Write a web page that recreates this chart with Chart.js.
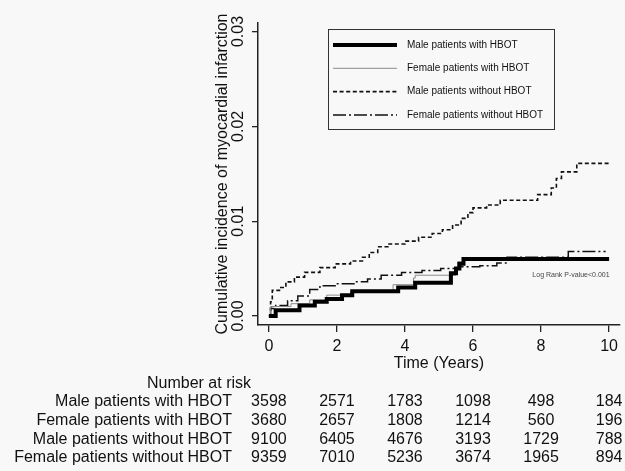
<!DOCTYPE html>
<html>
<head>
<meta charset="utf-8">
<script src="https://cdn.jsdelivr.net/npm/chart.js@4.4.0/dist/chart.umd.min.js"></script>
<style>
html, body { margin: 0; padding: 0; background: #f8f8f8; }
canvas { display: block; }
</style>
</head>
<body>
<canvas id="km" width="625" height="471"></canvas>
<script>
// series names (legend + risk table rows)
const groupNames = ['Male patients with HBOT', 'Female patients with HBOT', 'Male patients without HBOT', 'Female patients without HBOT'];

// step curves: time in years, cumulative incidence
const maleHbotTime = [0, 0.2, 0.9, 1.35, 1.7, 2.15, 2.45, 3.8, 4.3, 5.35, 5.5, 5.6, 5.72, 10];
const maleHbotCum = [0, 0.0006, 0.0011, 0.0015, 0.0018, 0.0022, 0.0026, 0.0030, 0.0035, 0.0045, 0.0050, 0.0055, 0.0060, 0.0060];

const femaleHbotTime = [0, 0.05, 0.65, 1.2, 1.7, 2.4, 3.65, 4.25, 4.3, 5.5, 5.55, 5.7, 10];
const femaleHbotCum = [0, 0.0010, 0.0013, 0.0017, 0.0022, 0.0026, 0.0033, 0.0040, 0.0043, 0.0047, 0.0057, 0.0060, 0.0060];

const maleNoHbotTime = [0, 0.05, 0.1, 0.35, 0.5, 0.75, 1.05, 1.5, 1.95, 2.4, 2.75, 2.95, 3.2, 3.5, 4.0, 4.4, 4.8, 5.1, 5.4, 5.65, 5.85, 6.0, 6.4, 6.8, 7.9, 8.3, 8.45, 8.6, 9.05, 10];
const maleNoHbotCum = [0, 0.0015, 0.0027, 0.0030, 0.0036, 0.0041, 0.0046, 0.0051, 0.0055, 0.0058, 0.0062, 0.0067, 0.0073, 0.0076, 0.0079, 0.0083, 0.0087, 0.0091, 0.0096, 0.0103, 0.0109, 0.0114, 0.0117, 0.0122, 0.0128, 0.0135, 0.0145, 0.0152, 0.0161, 0.0161];

const femaleNoHbotTime = [0, 0.05, 0.2, 0.55, 0.85, 1.2, 1.5, 1.95, 2.5, 2.9, 3.3, 3.9, 4.5, 5.05, 5.6, 6.2, 6.7, 7.0, 8.8, 9.9];
const femaleNoHbotCum = [0, 0.0008, 0.0011, 0.0016, 0.0021, 0.0028, 0.0032, 0.0034, 0.0036, 0.0039, 0.0043, 0.0046, 0.0048, 0.0050, 0.0052, 0.0053, 0.0056, 0.0062, 0.0068, 0.0068];

// axis ticks
const xTicks = [0, 2, 4, 6, 8, 10];
const yTicks = [0, 0.01, 0.02, 0.03];
const yTickLabels = ['0.00', '0.01', '0.02', '0.03'];

// number at risk table
const riskTimes = [0, 2, 4, 6, 8, 10];
const riskMaleHbot = [3598, 2571, 1783, 1098, 498, 184];
const riskFemaleHbot = [3680, 2657, 1808, 1214, 560, 196];
const riskMaleNoHbot = [9100, 6405, 4676, 3193, 1729, 788];
const riskFemaleNoHbot = [9359, 7010, 5236, 3674, 1965, 894];

const pValueText = 'Log Rank P-value<0.001';

const FONT = '"Liberation Sans", Arial, sans-serif';

function toPoints(times, values) {
    return times.map((t, i) => ({ x: t, y: values[i] }));
}

const bgPlugin = {
    id: 'bg',
    beforeDraw(chart) {
        const ctx = chart.ctx;
        ctx.save();
        ctx.fillStyle = '#f8f8f8';
        ctx.fillRect(0, 0, chart.width, chart.height);
        ctx.restore();
    }
};

// y tick labels are rotated in the original, draw them by hand
const yLabelPlugin = {
    id: 'yLabels',
    afterDraw(chart) {
        const ctx = chart.ctx;
        const yScale = chart.scales.y;
        ctx.save();
        ctx.font = '16px ' + FONT;
        ctx.fillStyle = '#111';
        ctx.textAlign = 'center';
        ctx.textBaseline = 'middle';
        yTicks.forEach((v, i) => {
            ctx.save();
            ctx.translate(239, yScale.getPixelForValue(v));
            ctx.rotate(-Math.PI / 2);
            ctx.fillText(yTickLabels[i], 0, 0);
            ctx.restore();
        });
        ctx.restore();
    }
};

const legendPlugin = {
    id: 'boxLegend',
    afterDraw(chart) {
        const ctx = chart.ctx;
        ctx.save();
        ctx.strokeStyle = '#333';
        ctx.lineWidth = 1;
        ctx.strokeRect(328.5, 29.5, 226, 100);
        ctx.font = '10px ' + FONT;
        ctx.textBaseline = 'middle';
        ctx.textAlign = 'left';
        chart.data.datasets.forEach((ds, i) => {
            const y = 45 + i * 23.3;
            ctx.save();
            ctx.strokeStyle = ds.borderColor;
            ctx.lineWidth = ds.borderWidth;
            ctx.setLineDash(ds.borderDash || []);
            ctx.beginPath();
            ctx.moveTo(333, y);
            ctx.lineTo(397, y);
            ctx.stroke();
            ctx.restore();
            ctx.fillStyle = '#111';
            ctx.fillText(ds.label, 407, y);
        });
        ctx.restore();
    }
};

const riskPlugin = {
    id: 'riskTable',
    afterDraw(chart) {
        const ctx = chart.ctx;
        const xScale = chart.scales.x;
        const rows = [riskMaleHbot, riskFemaleHbot, riskMaleNoHbot, riskFemaleNoHbot];
        const rowY = [402, 421, 440, 458];
        ctx.save();
        ctx.font = '16px ' + FONT;
        ctx.fillStyle = '#111';
        ctx.textBaseline = 'middle';
        ctx.textAlign = 'center';
        ctx.fillText('Number at risk', 199, 384);
        rows.forEach((row, r) => {
            ctx.textAlign = 'right';
            ctx.fillText(groupNames[r], 232, rowY[r]);
            ctx.textAlign = 'center';
            row.forEach((n, j) => {
                ctx.fillText(String(n), xScale.getPixelForValue(riskTimes[j]), rowY[r]);
            });
        });

        // log rank note inside the plot
        const yScale = chart.scales.y;
        ctx.font = '7px ' + FONT;
        ctx.fillStyle = '#444';
        ctx.fillText(pValueText, xScale.getPixelForValue(8.88), yScale.getPixelForValue(0.00433));
        ctx.restore();
    }
};

new Chart(document.getElementById('km'), {
    type: 'line',
    data: {
        datasets: [
            {
                label: groupNames[0],
                data: toPoints(maleHbotTime, maleHbotCum),
                borderColor: '#000',
                borderWidth: 4,
                borderDash: []
            },
            {
                label: groupNames[1],
                data: toPoints(femaleHbotTime, femaleHbotCum),
                borderColor: '#8c8c8c',
                borderWidth: 1,
                borderDash: []
            },
            {
                label: groupNames[2],
                data: toPoints(maleNoHbotTime, maleNoHbotCum),
                borderColor: '#111',
                borderWidth: 1.6,
                borderDash: [4, 2.6]
            },
            {
                label: groupNames[3],
                data: toPoints(femaleNoHbotTime, femaleNoHbotCum),
                borderColor: '#111',
                borderWidth: 1.5,
                borderDash: [13, 3, 2, 3]
            }
        ]
    },
    options: {
        responsive: false,
        animation: false,
        layout: {
            padding: { left: 209, top: 23, right: 0, bottom: 99 }
        },
        elements: {
            point: { radius: 0 },
            line: { stepped: 'before', fill: false, tension: 0, borderJoinStyle: 'miter', borderCapStyle: 'butt' }
        },
        plugins: {
            legend: { display: false },
            tooltip: { enabled: false }
        },
        scales: {
            x: {
                type: 'linear',
                min: -0.32,
                max: 10.32,
                afterBuildTicks: s => { s.ticks = xTicks.map(v => ({ value: v })); },
                afterFit: s => { s.height = 47; },
                ticks: {
                    font: { family: FONT, size: 16, lineHeight: 1 },
                    color: '#111',
                    padding: 7,
                    maxRotation: 0,
                    callback: v => String(v)
                },
                grid: { drawOnChartArea: false, drawTicks: true, tickLength: 7, color: '#222', lineWidth: 1.3 },
                border: { display: true, color: '#222', width: 1.5 },
                title: {
                    display: true,
                    text: 'Time (Years)',
                    font: { family: FONT, size: 16, lineHeight: 1 },
                    color: '#111',
                    padding: { top: 0, bottom: 0 }
                }
            },
            y: {
                type: 'linear',
                min: -0.00095,
                max: 0.0309,
                afterBuildTicks: s => { s.ticks = yTicks.map(v => ({ value: v })); },
                afterFit: s => { s.width = 49; },
                ticks: { display: false },
                grid: { drawOnChartArea: false, drawTicks: true, tickLength: 6, color: '#222', lineWidth: 1.3 },
                border: { display: true, color: '#222', width: 1.5 },
                title: {
                    display: true,
                    text: 'Cumulative incidence of myocardial infarction',
                    font: { family: FONT, size: 16, lineHeight: 1 },
                    color: '#111',
                    padding: { top: 6, bottom: 0 }
                }
            }
        }
    },
    plugins: [bgPlugin, yLabelPlugin, legendPlugin, riskPlugin]
});
</script>
</body>
</html>
